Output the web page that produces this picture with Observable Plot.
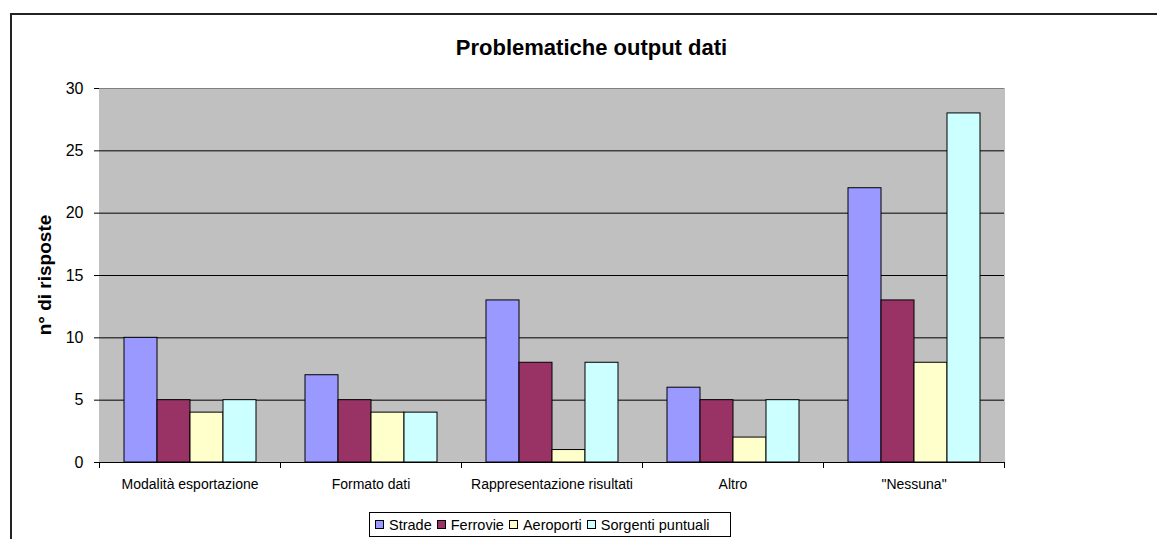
<!DOCTYPE html>
<html>
<head>
<meta charset="utf-8">
<script src="https://cdn.jsdelivr.net/npm/d3@7"></script>
<script src="https://cdn.jsdelivr.net/npm/@observablehq/plot@0.6"></script>
<style>
  html, body { margin: 0; padding: 0; background: #fff; }
  #wrap { position: relative; width: 1157px; height: 539px; overflow: hidden; font-family: "Liberation Sans", Arial, sans-serif; }
  #outer { position: absolute; left: 10px; top: 13px; width: 1200px; height: 600px; border-left: 2px solid #222; border-top: 2px solid #222; }
  #title { position: absolute; left: 0; width: 1183px; top: 35px; text-align: center; font-weight: bold; font-size: 22px; color: #000; }
  #ylabel { position: absolute; left: 45px; top: 275px; transform: translate(-50%, -50%) rotate(-90deg); white-space: nowrap; font-weight: bold; font-size: 19px; color: #000; }
  #legend { position: absolute; left: 369px; top: 512px; width: 362px; height: 25px; border: 1px solid #000; box-sizing: border-box; background: #fff; display: flex; align-items: center; padding-left: 5px; font-size: 14.5px; color: #000; }
  .item { display: flex; align-items: center; margin-right: 5px; }
  .sw { width: 7px; height: 7px; border: 1px solid #000; margin-right: 5px; }
  #chart { position: absolute; left: 0; top: 0; }
</style>
</head>
<body>
<div id="wrap">
  <div id="outer"></div>
  <div id="chart"></div>
  <div id="title"></div>
  <div id="ylabel"></div>
  <div id="legend"></div>
</div>
<script>
const title = "Problematiche output dati";
const yLabel = "n° di risposte";
const categories = ["Modalità esportazione", "Formato dati", "Rappresentazione risultati", "Altro", "\"Nessuna\""];
const series = ["Strade", "Ferrovie", "Aeroporti", "Sorgenti puntuali"];
const strade = [10, 7, 13, 6, 22];
const ferrovie = [5, 5, 8, 5, 13];
const aeroporti = [4, 4, 1, 2, 8];
const sorgenti = [5, 4, 8, 5, 28];
const colors = ["#9999FF", "#993366", "#FFFFCC", "#CCFFFF"];
const yTicks = [0, 5, 10, 15, 20, 25, 30];

const valuesBySeries = [strade, ferrovie, aeroporti, sorgenti];
const data = categories.flatMap((c, i) => series.map((s, j) => ({category: c, series: s, value: valuesBySeries[j][i]})));

const W = 1157, H = 539, mL = 98, mR = 153, mT = 88, mB = 77;
const padOuter = 0.72;
const facetW = (W - mL - mR) / categories.length;
const step = facetW / (series.length + 2 * padOuter);
const firstEdgeDx = -(padOuter * step + step / 2);

const chart = Plot.plot({
  width: W, height: H,
  marginLeft: mL, marginRight: mR, marginTop: mT, marginBottom: mB,
  style: {fontFamily: "'Liberation Sans', Arial, sans-serif", background: "transparent", color: "#000"},
  fx: {domain: categories, padding: 0, label: null},
  x: {domain: series, axis: null, paddingInner: 0, paddingOuter: padOuter},
  y: {domain: [0, 30], label: null},
  color: {domain: series, range: colors},
  marks: [
    Plot.frame({fill: "#C0C0C0", stroke: "#C0C0C0", strokeWidth: 1}),
    Plot.gridY(yTicks.slice(1, -1), {stroke: "#000", strokeOpacity: 1, strokeWidth: 1}),
    Plot.barY(data, {fx: "category", x: "series", y: "value", fill: "series", stroke: "#000", strokeWidth: 1}),
    Plot.ruleY([30], {stroke: "#808080"}),
    Plot.frame({anchor: "left", stroke: "#000", insetTop: H - mT - mB, insetBottom: -5}),
    Plot.frame({anchor: "right", stroke: "#000", insetTop: H - mT - mB, insetBottom: -5}),
    Plot.ruleX([series[0]], {fx: () => categories[0], x: series[0], dx: firstEdgeDx, stroke: "#000"}),
    Plot.ruleY([0], {stroke: "#000"}),
    Plot.axisY(yTicks, {tickSize: 5, tickPadding: 11, fontSize: 16, label: null}),
    Plot.axisFx({anchor: "bottom", tickSize: 0, tickPadding: 17, fontSize: 14, label: null})
  ]
});
document.getElementById("chart").appendChild(chart);
document.getElementById("title").textContent = title;
document.getElementById("ylabel").textContent = yLabel;
const legend = document.getElementById("legend");
series.forEach((s, j) => {
  const item = document.createElement("div");
  item.className = "item";
  const sw = document.createElement("div");
  sw.className = "sw";
  sw.style.background = colors[j];
  const t = document.createElement("span");
  t.textContent = s;
  item.appendChild(sw);
  item.appendChild(t);
  legend.appendChild(item);
});
</script>
</body>
</html>
